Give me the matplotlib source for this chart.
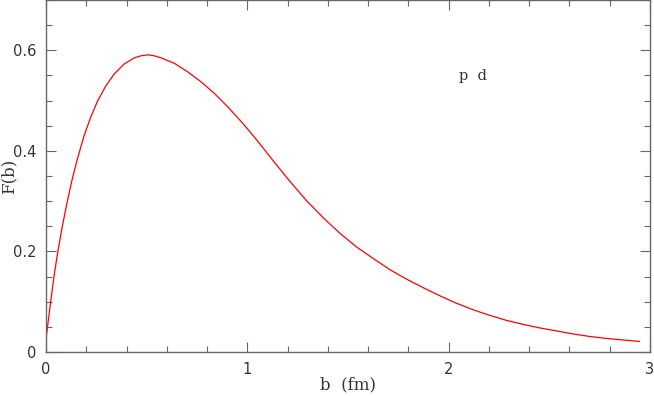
import matplotlib
matplotlib.use("Agg")
import matplotlib.pyplot as plt
from matplotlib.ticker import MultipleLocator

# F(b)
b_vals = [0.0, 0.010, 0.023, 0.040, 0.056, 0.081, 0.106, 0.131, 0.156, 0.189,
          0.223, 0.256, 0.297, 0.339, 0.389, 0.439, 0.472, 0.505, 0.538, 0.571,
          0.638, 0.704, 0.771, 0.837, 0.904, 0.970, 1.017, 1.046, 1.129, 1.212,
          1.294, 1.377, 1.460, 1.542, 1.625, 1.707, 1.790, 1.873, 1.955, 2.038,
          2.121, 2.203, 2.286, 2.369, 2.451, 2.534, 2.617, 2.699, 2.782, 2.864,
          2.947]
F_vals = [0.0245, 0.058, 0.100, 0.151, 0.193, 0.250, 0.300, 0.345, 0.384, 0.430,
          0.468, 0.499, 0.529, 0.553, 0.573, 0.585, 0.589, 0.591, 0.589, 0.585,
          0.574, 0.557, 0.537, 0.514, 0.487, 0.458, 0.436, 0.422, 0.380, 0.339,
          0.301, 0.267, 0.236, 0.209, 0.186, 0.164, 0.145, 0.128, 0.112, 0.097,
          0.084, 0.073, 0.063, 0.055, 0.048, 0.042, 0.036, 0.031, 0.027, 0.024,
          0.021]

x_ticks = [0, 1, 2, 3]
x_labels = ["0", "1", "2", "3"]
y_ticks = [0, 0.2, 0.4, 0.6]
y_labels = ["0", "0.2", "0.4", "0.6"]

axis_col = "#666666"
text_col = "#333333"

fig = plt.figure(figsize=(6.54, 3.96), dpi=100)
ax = fig.add_axes([46 / 654, 44 / 396, 604 / 654, 352 / 396])

ax.plot(b_vals, F_vals, color="#ff0000", lw=0.9)

ax.set_xlim(0, 3)
ax.set_ylim(0, 0.7)
ax.set_xticks(x_ticks)
ax.set_xticklabels(x_labels)
ax.set_yticks(y_ticks)
ax.set_yticklabels(y_labels)
ax.xaxis.set_minor_locator(MultipleLocator(0.2))
ax.yaxis.set_minor_locator(MultipleLocator(0.05))

ax.tick_params(which="both", direction="in", top=True, right=True,
               color=axis_col, width=0.8, labelcolor=text_col, labelsize=10.5)
ax.tick_params(which="major", length=7, pad=7)
ax.tick_params(which="minor", length=4)
for lab in ax.get_xticklabels() + ax.get_yticklabels():
    lab.set_family("DejaVu Sans")
for s in ax.spines.values():
    s.set_color(axis_col)
    s.set_linewidth(1.0)

# axis titles placed in figure pixels
fig.text(348 / 654, 1 - 385 / 396, "b  (fm)", family="DejaVu Serif", fontsize=12,
         color=text_col, ha="center", va="center")
fig.text(9 / 654, 1 - 176 / 396, "F(b)", family="DejaVu Serif", fontsize=12,
         color=text_col, ha="center", va="center", rotation=90)

ax.text(2.12, 0.549, "p  d", family="DejaVu Serif", fontsize=10.5,
        color=text_col, ha="center", va="center")

fig.savefig("out.png", dpi=100)
